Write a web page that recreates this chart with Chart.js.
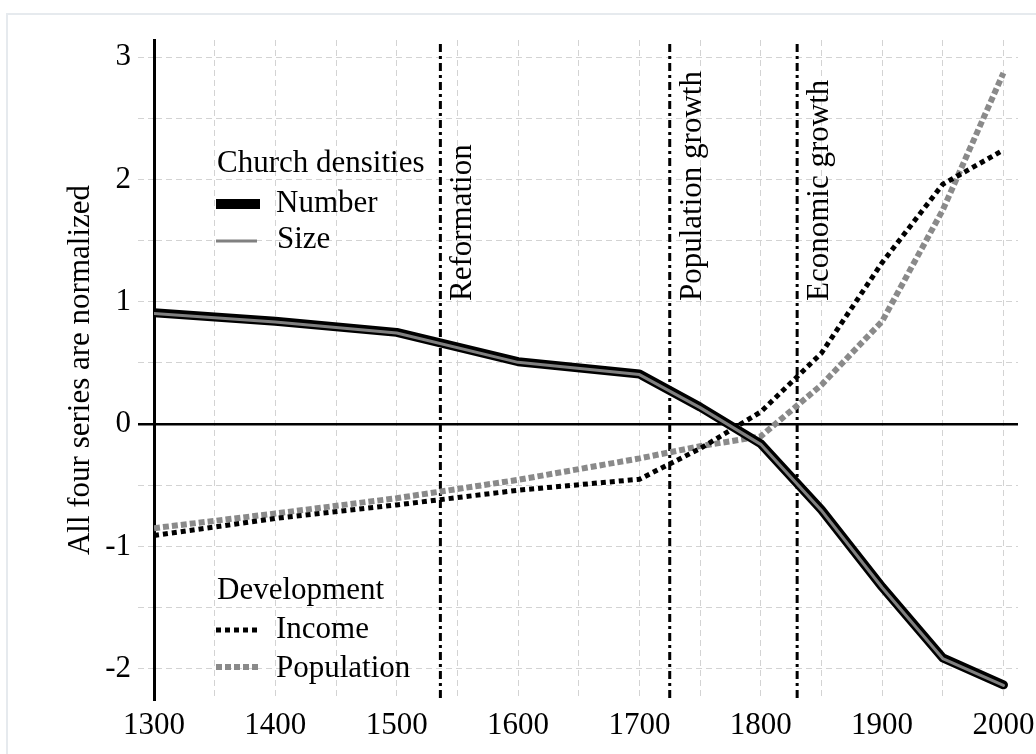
<!DOCTYPE html>
<html>
<head>
<meta charset="utf-8">
<script src="https://cdn.jsdelivr.net/npm/chart.js@4.4.0/dist/chart.umd.min.js"></script>
<style>
html, body { margin: 0; padding: 0; background: #fff; }
#wrap { position: relative; width: 1036px; height: 754px; }
</style>
</head>
<body>
<div id="wrap"><canvas id="chart" width="1036" height="754"></canvas></div>
<script>
// values (all four series normalized)
const years = [1300, 1400, 1500, 1600, 1700, 1750, 1800, 1850, 1900, 1950, 2000];
const churchNumber = [0.91, 0.84, 0.75, 0.51, 0.41, 0.14, -0.16, -0.70, -1.33, -1.91, -2.13];
const churchSize = [0.905, 0.835, 0.745, 0.505, 0.405, 0.135, -0.165, -0.705, -1.335, -1.915, -2.135];
const income = [-0.91, -0.77, -0.66, -0.54, -0.45, -0.20, 0.10, 0.58, 1.32, 1.96, 2.24];
const population = [-0.85, -0.73, -0.605, -0.455, -0.28, -0.18, -0.10, 0.32, 0.84, 1.75, 2.87];

const eventYears = [1536, 1725, 1830];
const eventLabels = ['Reformation', 'Population growth', 'Economic growth'];

const xTickLabels = [1300, 1400, 1500, 1600, 1700, 1800, 1900, 2000];
const yTickLabels = [-2, -1, 0, 1, 2, 3];

const FONT = '"Liberation Serif", "Times New Roman", serif';
const FSIZE = 31;
const gridColor = '#d3d3d3';

const pts = (vals) => vals.map((v, i) => ({ x: years[i], y: v }));

// vertical grid every 50 years, horizontal every 0.5
const xGrid = [];
for (let y = 1300; y <= 2000; y += 50) xGrid.push(y);
const yGrid = [];
for (let v = -2; v <= 3; v += 0.5) yGrid.push(v);

const overlay = {
    id: 'overlay',
    beforeDraw(chart) {
        const ctx = chart.ctx;
        ctx.save();
        ctx.strokeStyle = '#e6eaee';
        ctx.lineWidth = 2;
        ctx.beginPath();
        ctx.moveTo(7, 760);
        ctx.lineTo(7, 14);
        ctx.lineTo(1040, 14);
        ctx.stroke();
        ctx.restore();
    },
    beforeDatasetsDraw(chart) {
        const { ctx, chartArea, scales: { x, y } } = chart;
        ctx.save();
        // zero line
        const y0 = y.getPixelForValue(0);
        ctx.strokeStyle = '#000';
        ctx.lineWidth = 2.5;
        ctx.beginPath();
        ctx.moveTo(chartArea.left - 16, y0);
        ctx.lineTo(chartArea.right, y0);
        ctx.stroke();

        // event lines and labels
        ctx.font = FSIZE + 'px ' + FONT;
        eventYears.forEach((yr, i) => {
            const px = x.getPixelForValue(yr);
            ctx.strokeStyle = '#000';
            ctx.lineWidth = 3;
            ctx.setLineDash([8, 4, 3, 4]);
            ctx.beginPath();
            ctx.moveTo(px, chartArea.top + 4);
            ctx.lineTo(px, chartArea.bottom);
            ctx.stroke();
            ctx.setLineDash([]);

            ctx.save();
            ctx.translate(px + 31, 301);
            ctx.rotate(-Math.PI / 2);
            ctx.fillStyle = '#000';
            ctx.textAlign = 'left';
            ctx.textBaseline = 'alphabetic';
            ctx.fillText(eventLabels[i], 0, 0);
            ctx.restore();
        });
        ctx.restore();
    },
    afterDraw(chart) {
        const ctx = chart.ctx;
        ctx.save();
        ctx.fillStyle = '#000';
        ctx.font = FSIZE + 'px ' + FONT;
        ctx.textBaseline = 'alphabetic';
        ctx.fillText('Church densities', 217, 172);
        ctx.fillText('Number', 276, 212);
        ctx.fillText('Size', 277, 248);
        ctx.fillText('Development', 217, 599);
        ctx.fillText('Income', 276, 638);
        ctx.fillText('Population', 276, 677);

        ctx.lineCap = 'butt';
        ctx.strokeStyle = '#000';
        ctx.lineWidth = 10;
        ctx.beginPath(); ctx.moveTo(216, 204); ctx.lineTo(260, 204); ctx.stroke();
        ctx.strokeStyle = '#808080';
        ctx.lineWidth = 3;
        ctx.beginPath(); ctx.moveTo(216, 241); ctx.lineTo(257, 241); ctx.stroke();
        ctx.strokeStyle = '#000';
        ctx.lineWidth = 5;
        ctx.setLineDash([5, 4]);
        ctx.beginPath(); ctx.moveTo(216, 630); ctx.lineTo(257, 630); ctx.stroke();
        ctx.strokeStyle = '#8a8a8a';
        ctx.lineWidth = 6;
        ctx.setLineDash([6, 3]);
        ctx.beginPath(); ctx.moveTo(216, 667); ctx.lineTo(258, 667); ctx.stroke();
        ctx.restore();
    }
};

new Chart(document.getElementById('chart'), {
    type: 'line',
    data: {
        datasets: [
            {
                label: 'Size',
                data: pts(churchSize),
                borderColor: '#808080',
                borderWidth: 3,
                pointRadius: 0,
                borderCapStyle: 'round',
                borderJoinStyle: 'round',
                order: 0
            },
            {
                label: 'Number',
                data: pts(churchNumber),
                borderColor: '#000',
                borderWidth: 9,
                pointRadius: 0,
                borderCapStyle: 'round',
                borderJoinStyle: 'round',
                order: 1
            },
            {
                label: 'Income',
                data: pts(income),
                borderColor: '#000',
                borderWidth: 5,
                borderDash: [5, 4],
                pointRadius: 0,
                order: 2
            },
            {
                label: 'Population',
                data: pts(population),
                borderColor: '#8a8a8a',
                borderWidth: 6,
                borderDash: [6, 3],
                pointRadius: 0,
                order: 3
            }
        ]
    },
    options: {
        responsive: false,
        animation: false,
        layout: { padding: { top: 40, right: 18, left: 0, bottom: 0 } },
        plugins: {
            legend: { display: false },
            tooltip: { enabled: false }
        },
        scales: {
            x: {
                type: 'linear',
                min: 1300,
                max: 2012,
                afterBuildTicks: (s) => { s.ticks = xGrid.map(v => ({ value: v })); },
                afterFit: (s) => { s.height = 54; s.paddingLeft = 0; s.paddingRight = 0; },
                ticks: {
                    autoSkip: false,
                    maxRotation: 0,
                    padding: 7,
                    color: '#000',
                    font: { family: FONT, size: FSIZE },
                    callback: (v) => xTickLabels.includes(v) ? String(v) : ''
                },
                grid: { color: gridColor, lineWidth: 1, drawTicks: false },
                border: { display: false, dash: [6, 4] }
            },
            y: {
                min: -2.254,
                max: 3.139,
                afterBuildTicks: (s) => { s.ticks = yGrid.map(v => ({ value: v })); },
                afterFit: (s) => { s.width = 154; s.paddingTop = 0; s.paddingBottom = 0; },
                ticks: {
                    autoSkip: false,
                    padding: 7,
                    color: '#000',
                    font: { family: FONT, size: FSIZE },
                    callback: (v) => yTickLabels.includes(v) ? String(v) : ''
                },
                grid: {
                    color: gridColor,
                    lineWidth: 1,
                    drawTicks: true,
                    tickLength: 16,
                    tickColor: gridColor,
                    tickBorderDash: [6, 4]
                },
                border: { display: true, color: '#000', width: 3, dash: [6, 4] },
                title: {
                    display: true,
                    text: 'All four series are normalized',
                    color: '#000',
                    font: { family: FONT, size: FSIZE },
                    padding: { top: 62, bottom: 0 }
                }
            }
        }
    },
    plugins: [overlay]
});
</script>
</body>
</html>
